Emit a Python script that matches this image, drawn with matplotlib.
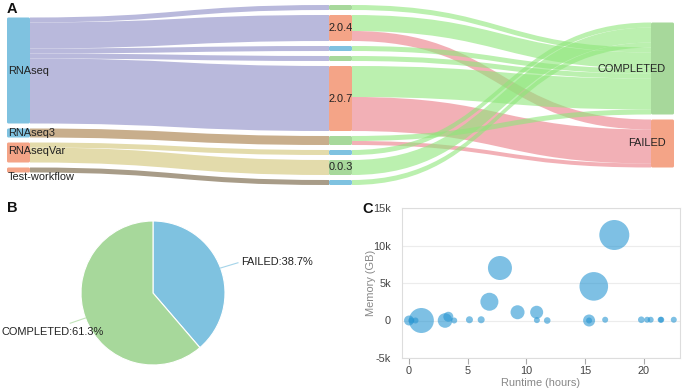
import matplotlib
matplotlib.use("Agg")
import matplotlib.pyplot as plt
from matplotlib.path import Path
from matplotlib.patches import PathPatch, FancyBboxPatch
from matplotlib.ticker import FuncFormatter, FixedLocator
import numpy as np

plt.rcParams['font.family'] = ['Liberation Sans', 'DejaVu Sans']

W, H = 683, 389
fig = plt.figure(figsize=(W / 100, H / 100), dpi=100)

# ---------------- data ----------------
# Sankey (A)
workflows = ["RNAseq", "RNAseq3", "RNAseqVar", "Test-workflow"]
versions = ["v_a", "2.0.4", "v_b", "v_c", "2.0.7", "v_d", "v_e", "0.0.3", "v_f"]
version_labels = ["", "2.0.4", "", "", "2.0.7", "", "", "0.0.3", ""]
statuses = ["COMPLETED", "FAILED"]

wf_version_src = ["RNAseq", "RNAseq", "RNAseq", "RNAseq", "RNAseq",
                  "RNAseq3", "RNAseqVar", "RNAseqVar", "Test-workflow"]
wf_version_tgt = ["v_a", "2.0.4", "v_b", "v_c", "2.0.7", "v_d", "v_e", "0.0.3", "v_f"]
wf_version_val = [5, 26, 5, 5, 65, 9, 5, 15, 5]

ver_status_src = ["v_a", "2.0.4", "2.0.4", "v_b", "v_c", "2.0.7", "2.0.7",
                  "v_d", "v_d", "v_e", "0.0.3", "v_f"]
ver_status_tgt = ["COMPLETED", "COMPLETED", "FAILED", "COMPLETED", "COMPLETED",
                  "COMPLETED", "FAILED", "COMPLETED", "FAILED", "COMPLETED",
                  "COMPLETED", "COMPLETED"]
ver_status_val = [5, 16, 10, 5, 5, 31, 34, 5, 4, 5, 15, 5]

# order in which flows arrive at the COMPLETED node (top to bottom)
completed_inflow_order = ["v_e", "0.0.3", "v_f", "v_a", "2.0.4", "v_b", "v_c", "2.0.7", "v_d"]

# Pie (B)
pie_labels = ["FAILED", "COMPLETED"]
pie_values = [12, 19]

# Bubble chart (C)
runtime_h = [0.0, 0.2, 0.55, 1.05, 3.07, 3.35, 3.85, 5.15, 6.15, 6.85, 7.75, 9.25, 10.88,
             10.9, 11.78, 15.35, 15.35, 15.75, 16.72, 17.5, 19.8, 20.3, 20.6, 21.45, 21.5, 22.57]
memory_gb = [0, 0, 0, 0, 0, 500, 0, 100, 100, 2500, 7000, 1100, 1100,
             50, 0, 0, 0, 4550, 100, 11400, 100, 100, 100, 100, 100, 100]
bubble_metric = [10, 6, 6, 25, 14.6, 10, 6, 7, 7, 18, 24, 14, 13,
                 6, 6.6, 12, 6, 28.6, 6, 30, 6.6, 6, 6, 6, 6, 6]

# ---------------- colours ----------------
BLUE = "#7fc2e0"
SALMON = "#f4a487"
GREEN = "#a7d89b"
node_colors = {
    "RNAseq": BLUE, "RNAseq3": BLUE, "RNAseqVar": SALMON, "Test-workflow": SALMON,
    "v_a": GREEN, "2.0.4": SALMON, "v_b": BLUE, "v_c": GREEN, "2.0.7": SALMON,
    "v_d": GREEN, "v_e": BLUE, "0.0.3": GREEN, "v_f": BLUE,
    "COMPLETED": GREEN, "FAILED": SALMON,
}
wf_link_colors = {"RNAseq": "#b9b9dc", "RNAseq3": "#c8ae8c",
                  "RNAseqVar": "#e3dbab", "Test-workflow": "#a89c88"}
status_link_colors = {"COMPLETED": ("#8ee67a", 0.6), "FAILED": ("#ea7c86", 0.6)}

# ---------------- Sankey ----------------
top_h = 195
ax_s = fig.add_axes([0, 1 - top_h / H, 1, top_h / H])
ax_s.set_xlim(0, W)
ax_s.set_ylim(top_h, 0)
ax_s.axis("off")

node_w = 23
col_x = [7, 329, 651]
gap = 5
center_y = 95
columns = [workflows, versions, statuses]

all_src = wf_version_src + ver_status_src
all_tgt = wf_version_tgt + ver_status_tgt
all_val = wf_version_val + ver_status_val

node_val = {}
for col in columns:
    for n in col:
        vin = sum(v for s, t, v in zip(all_src, all_tgt, all_val) if t == n)
        vout = sum(v for s, t, v in zip(all_src, all_tgt, all_val) if s == n)
        node_val[n] = max(vin, vout)

node_pos = {}
for ci, col in enumerate(columns):
    total = sum(node_val[n] for n in col) + gap * (len(col) - 1)
    y = center_y - total / 2
    for n in col:
        node_pos[n] = (col_x[ci], y, node_val[n])
        y += node_val[n] + gap

out_cursor = {n: node_pos[n][1] for n in node_pos}
links = []
for s, t, v in zip(all_src, all_tgt, all_val):
    y0 = out_cursor[s]
    out_cursor[s] += v
    links.append([s, t, v, y0, None])

in_cursor = {n: node_pos[n][1] for n in node_pos}
for n in node_pos:
    incoming = [l for l in links if l[1] == n]
    if n == "COMPLETED":
        incoming.sort(key=lambda l: completed_inflow_order.index(l[0]))
    else:
        incoming.sort(key=lambda l: node_pos[l[0]][1])
    for l in incoming:
        l[4] = in_cursor[n]
        in_cursor[n] += l[2]


def link_patch(x0, y0, x1, y1, t, color, alpha):
    xm = (x0 + x1) / 2
    verts = [(x0, y0), (xm, y0), (xm, y1), (x1, y1), (x1, y1 + t),
             (xm, y1 + t), (xm, y0 + t), (x0, y0 + t), (x0, y0)]
    codes = [Path.MOVETO, Path.CURVE4, Path.CURVE4, Path.CURVE4, Path.LINETO,
             Path.CURVE4, Path.CURVE4, Path.CURVE4, Path.CLOSEPOLY]
    return PathPatch(Path(verts, codes), facecolor=color, edgecolor="none",
                     alpha=alpha, zorder=1)


for s, t, v, y0, y1 in links:
    x0 = node_pos[s][0] + node_w
    x1 = node_pos[t][0]
    if s in workflows:
        ax_s.add_patch(link_patch(x0, y0, x1, y1, v, wf_link_colors[s], 1.0))
    else:
        c, a = status_link_colors[t]
        ax_s.add_patch(link_patch(x0, y0, x1, y1, v, c, a))

for n, (x, y, h) in node_pos.items():
    ax_s.add_patch(FancyBboxPatch((x, y), node_w, h,
                                  boxstyle="round,pad=0,rounding_size=1.5",
                                  facecolor=node_colors[n], edgecolor="none", zorder=2))

fs = 7.9
label_dy = {"Test-workflow": 7.5, "RNAseqVar": -1.5}
for n in workflows:
    x, y, h = node_pos[n]
    ax_s.text(x + 1, y + h / 2 + label_dy.get(n, 0), n, ha="left", va="center",
              fontsize=fs, color="#222222", zorder=3)
for n, lab in zip(versions, version_labels):
    if lab:
        x, y, h = node_pos[n]
        ax_s.text(x + node_w / 2, y + h / 2, lab, ha="center", va="center",
                  fontsize=fs, color="#222222", zorder=3)
for n in statuses:
    x, y, h = node_pos[n]
    ax_s.text(x + 15, y + h / 2, n, ha="right", va="center",
              fontsize=fs, color="#222222", zorder=3)

# ---------------- Pie ----------------
pc = (153, 293)
pr = 72
ax_p = fig.add_axes([(pc[0] - pr) / W, (H - pc[1] - pr) / H, 2 * pr / W, 2 * pr / H])
pie_colors = [BLUE, GREEN]
wedges, _ = ax_p.pie(pie_values, colors=pie_colors, startangle=90, counterclock=False,
                     radius=1, wedgeprops=dict(edgecolor="white", linewidth=0.8))
ax_p.set_xlim(-1, 1)
ax_p.set_ylim(-1, 1)
ax_p.set_aspect("equal")
ax_p.axis("off")
total = sum(pie_values)
pie_line_end = [(1.18, 0.42), (-1.15, -0.42)]
pie_text_pos = [(1.225, 0.43), (-2.10, -0.54)]
for w, lab, val, le, tp, col in zip(wedges, pie_labels, pie_values, pie_line_end,
                                    pie_text_pos, pie_colors):
    ang = np.deg2rad((w.theta1 + w.theta2) / 2)
    px, py = np.cos(ang), np.sin(ang)
    ax_p.plot([px, le[0]], [py, le[1]], color=col, lw=0.8, alpha=0.7, clip_on=False)
    ax_p.text(tp[0], tp[1], f"{lab}:{100 * val / total:.1f}%", ha="left", va="center",
              fontsize=fs, color="#222222", clip_on=False)

# ---------------- Bubble chart ----------------
ax_c = fig.add_axes([402 / W, (H - 358) / H, 278 / W, 150 / H])
sizes = [(m * 0.72) ** 2 for m in bubble_metric]
ax_c.scatter(runtime_h, memory_gb, s=sizes, color="#2896d2", alpha=0.6,
             edgecolors="none", zorder=3)
ax_c.set_xlim(-0.6, 23.1)
ax_c.set_ylim(-5000, 15000)
ax_c.yaxis.set_major_locator(FixedLocator([-5000, 0, 5000, 10000, 15000]))
ax_c.xaxis.set_major_locator(FixedLocator([0, 5, 10, 15, 20]))
ax_c.yaxis.set_major_formatter(FuncFormatter(
    lambda v, p: "0" if v == 0 else f"{int(v / 1000)}k"))
ax_c.grid(axis="y", color="#ececec", lw=0.8, zorder=0)
for sp in ax_c.spines.values():
    sp.set_color("#dddddd")
    sp.set_linewidth(0.8)
ax_c.tick_params(axis="y", length=0, labelsize=fs, labelcolor="#444444", pad=8)
ax_c.tick_params(axis="x", length=4, color="#aaaaaa", labelsize=fs,
                 labelcolor="#444444", pad=2)
ax_c.set_xlabel("Runtime (hours)", fontsize=fs, color="#888888", labelpad=1)
ax_c.set_ylabel("Memory (GB)", fontsize=fs, color="#888888", labelpad=-2)
ax_c.set_axisbelow(True)

# ---------------- panel letters ----------------
for lab, x, y in [("A", 7, 9), ("B", 7, 208), ("C", 362, 209)]:
    fig.text(x / W, 1 - y / H, lab, fontsize=10.5, fontweight="bold",
             ha="left", va="center", color="#111111")

fig.savefig("out.png", dpi=100)
